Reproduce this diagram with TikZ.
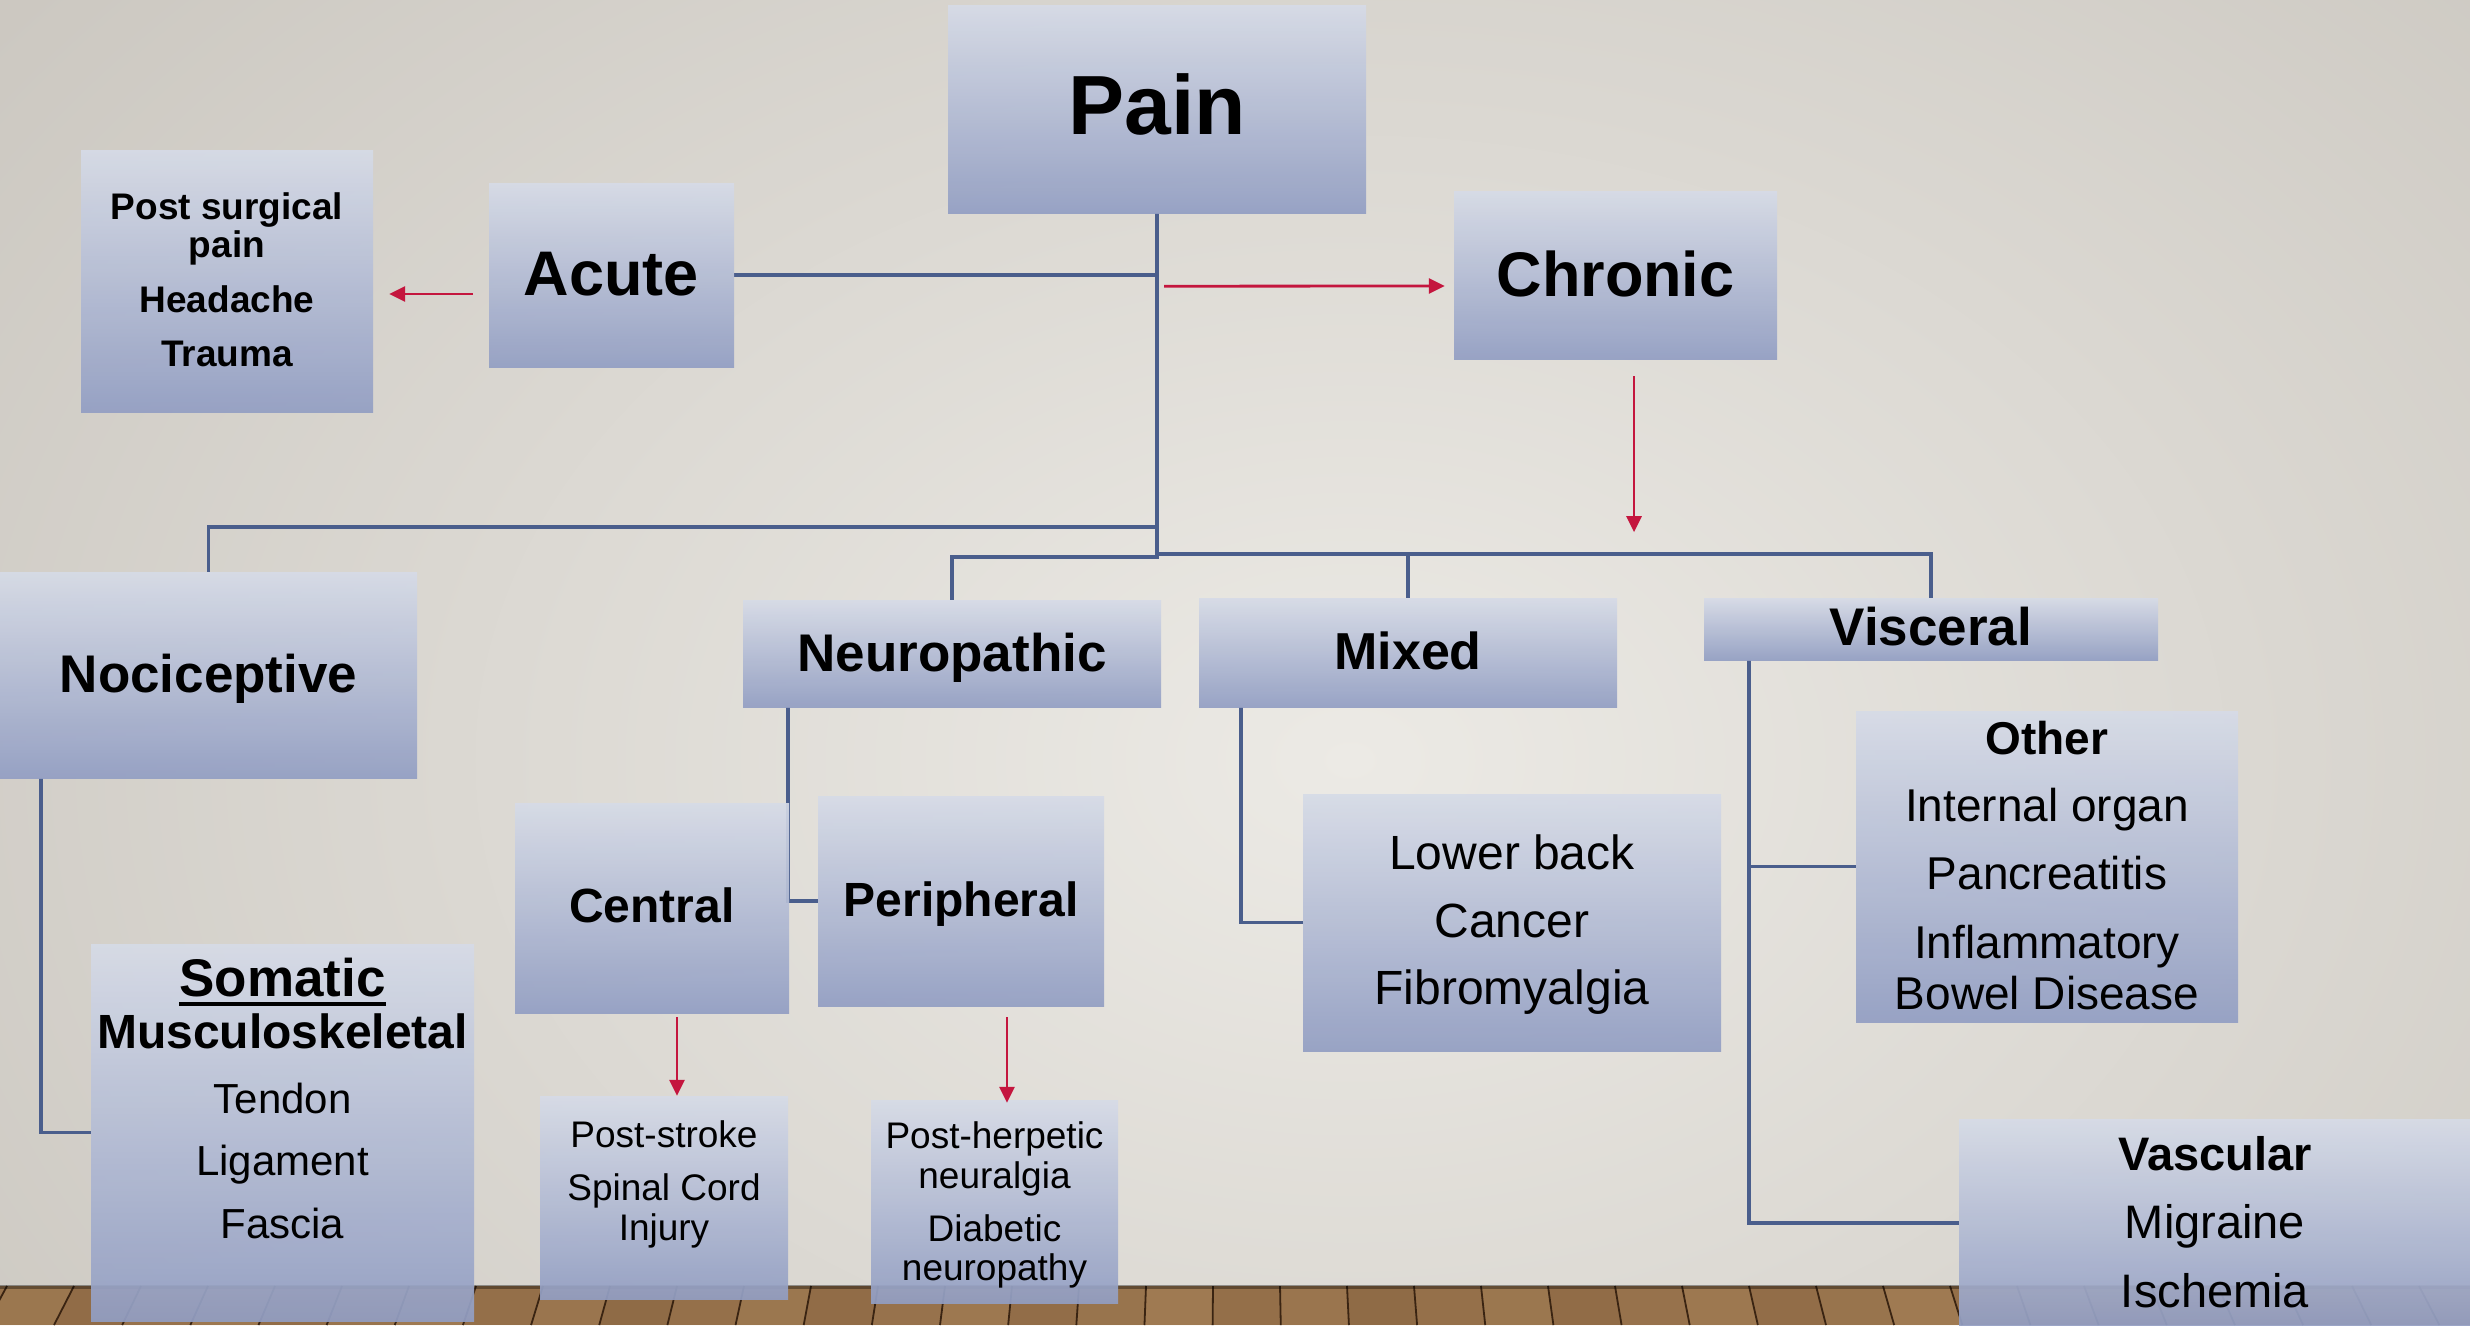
\documentclass[tikz,border=0pt]{standalone}
\usepackage{fontspec}
\setmainfont{Liberation Sans}
\usetikzlibrary{arrows.meta,calc}
\pgfdeclarelayer{bg}
\pgfdeclarelayer{lines}
\pgfsetlayers{bg,lines,main}
\definecolor{wallin}{RGB}{236,234,229}
\definecolor{wallout}{RGB}{203,199,192}
\definecolor{boxtop}{RGB}{214,219,231}
\definecolor{boxbot}{RGB}{146,158,195}
\definecolor{linkc}{RGB}{74,94,140}
\definecolor{redc}{RGB}{196,22,62}
\definecolor{wood}{RGB}{128,92,58}
\definecolor{woodlt}{RGB}{190,152,106}
\definecolor{wooddk}{RGB}{58,36,18}
\newcommand\fsz[1]{\fontsize{#1}{#1}\selectfont}
\newcommand\ulsom[1]{\setbox0\hbox{#1}\rlap{\rule[-10pt]{\wd0}{4.5pt}}\box0}
\begin{document}
\begin{tikzpicture}[x=1pt,y=-1pt,
  box/.style={rectangle,inner sep=0pt,draw=none,top color=boxtop,bottom color=boxbot,fill opacity=0.92},
  lnk/.style={draw=linkc,line width=3.5pt},
  redarr/.style={draw=redc,line width=2.8pt,-{Triangle[length=16pt,width=15pt]}},
  t/.style={anchor=base,inner sep=0pt,text=black},
  plank/.style={draw=wooddk,line width=1.8pt}]
\useasboundingbox (0,0) rectangle (2470,1325);

\begin{pgfonlayer}{bg}
  \fill[wallout] (0,0) rectangle (2470,1325);
  \begin{scope}
    \clip (0,0) rectangle (2470,1290);
    \fill[inner color=wallin,outer color=wallout] (1350,760) ellipse (1750 and 1250);
  \end{scope}
  \fill[wood] (0,1286) rectangle (2470,1325);
  \foreach \x [count=\i] in {-60,7,...,2540} {
    \pgfmathsetmacro\op{0.25+mod(\i*37,11)/40}
    \fill[woodlt,opacity=\op] (\x,1286) -- (\x+67,1286) -- ({\x+67+(\x+67-1235)*0.0172},1325) -- ({\x+(\x-1235)*0.0172},1325) -- cycle;
    \draw[plank] (\x,1286) -- ({\x+(\x-1235)*0.0172},1325);
  }
  \fill[black,opacity=0.35] (0,1285) rectangle (2470,1289);
\end{pgfonlayer}

% boxes
\node[box,minimum width=418,minimum height=208] (pain) at (1157,109) {};
\node[box,minimum width=292,minimum height=262] (post) at (227,281) {};
\node[box,minimum width=245,minimum height=184] (acute) at (611.5,275) {};
\node[box,minimum width=323,minimum height=168] (chronic) at (1615.5,275) {};
\node[box,minimum width=417,minimum height=206] (noc) at (208.5,675) {};
\node[box,minimum width=418,minimum height=107] (neuro) at (952,653.5) {};
\node[box,minimum width=418,minimum height=109] (mixed) at (1408,652.5) {};
\node[box,minimum width=454,minimum height=62] (visc) at (1931,629) {};
\node[box,minimum width=274,minimum height=210] (central) at (652,908) {};
\node[box,minimum width=286,minimum height=210] (periph) at (961,901) {};
\node[box,minimum width=383,minimum height=377] (somatic) at (282.5,1132.5) {};
\node[box,minimum width=248,minimum height=203] (stroke) at (664,1197.5) {};
\node[box,minimum width=247,minimum height=203] (herp) at (994.5,1201.5) {};
\node[box,minimum width=418,minimum height=257] (lower) at (1512,922.5) {};
\node[box,minimum width=382,minimum height=311] (other) at (2047,866.5) {};
\node[box,minimum width=516,minimum height=208] (vasc) at (2217,1223) {};

% connectors
\coordinate (jn) at (1157,557);
\coordinate (jr) at (1157,554);
\coordinate (jl) at (1157,527);
\coordinate (nv) at ($(neuro.south west)+(45,0)$);
\coordinate (cv) at ($(noc.south west)+(41,0)$);
\coordinate (mv) at ($(mixed.south west)+(42,0)$);
\coordinate (vv) at ($(visc.south west)+(45,0)$);
\begin{pgfonlayer}{lines}
  \draw[lnk] (pain.south) -- (jn) -| (neuro.north);
  \draw[lnk] (acute.east) -- (acute.east -| pain.south);
  \draw[lnk] (noc.north) |- (jl);
  \draw[lnk] (jr) -| (visc.north);
  \draw[lnk] (mixed.north) -- (mixed.north |- jr);
  \draw[lnk] (nv) |- (periph.west);
  \draw[lnk] (cv) |- (somatic.west);
  \draw[lnk] (mv) |- (lower.west);
  \draw[lnk] (vv) |- (vasc.west);
  \draw[lnk] (other.west) -- (other.west -| vv);
\end{pgfonlayer}

% red arrows
\coordinate (a1s) at ($(acute.west)+(-16,19)$);
\coordinate (a1e) at ($(post.east)+(16,13)$);
\coordinate (a2s) at ($(pain.south)+(7,73)$);
\coordinate (a2e) at ($(chronic.west)+(-9,11)$);
\coordinate (a3s) at ($(chronic.south)+(18.5,17)$);
\coordinate (a3e) at ($(chronic.south)+(18.5,173)$);
\coordinate (a4s) at ($(central.south)+(25,4)$);
\coordinate (a4e) at ($(stroke.north)+(13,0)$);
\coordinate (a5s) at ($(periph.south)+(46,11)$);
\coordinate (a5e) at ($(herp.north)+(12.5,3)$);
\draw[redarr] (a1s) -- (a1e);
\draw[redarr] (a2s) -- (a2e);
\draw[redarr] (a3s) -- (a3e);
\draw[redarr] (a4s) -- (a4e);
\draw[redarr] (a5s) -- (a5e);

% texts
\node[t,font=\bfseries\fsz{84}] (tpain) at (1157,134) {Pain};
\node[t,font=\bfseries\fsz{37}] (tps1) at (227,219) {Post surgical};
\node[t,font=\bfseries\fsz{37}] (tps2) at (227,257) {pain};
\node[t,font=\bfseries\fsz{37}] (tps3) at (227,312) {Headache};
\node[t,font=\bfseries\fsz{37}] (tps4) at (227,366) {Trauma};
\node[t,font=\bfseries\fsz{63}] (tacute) at (611.5,295) {Acute};
\node[t,font=\bfseries\fsz{63}] (tchron) at (1615.5,296) {Chronic};
\node[t,font=\bfseries\fsz{53}] (tnoc) at (208.5,692) {Nociceptive};
\node[t,font=\bfseries\fsz{53}] (tneuro) at (952,671) {Neuropathic};
\node[t,font=\bfseries\fsz{52}] (tmixed) at (1408,669) {Mixed};
\node[t,font=\bfseries\fsz{53}] (tvisc) at (1931,645) {Visceral};
\node[t,font=\bfseries\fsz{48}] (tcent) at (652,922) {Central};
\node[t,font=\bfseries\fsz{48}] (tperi) at (961,916) {Peripheral};
\node[t,font=\bfseries\fsz{53}] (tsom1) at (282.5,996) {\ulsom{Somatic}};
\node[t,font=\bfseries\fsz{48}] (tsom2) at (282.5,1048) {Musculoskeletal};
\node[t,font=\fsz{42}] (tsom3) at (282.5,1113) {Tendon};
\node[t,font=\fsz{42}] (tsom4) at (282.5,1175) {Ligament};
\node[t,font=\fsz{42}] (tsom5) at (282.5,1238) {Fascia};
\node[t,font=\fsz{37}] (tst1) at (664,1147) {Post-stroke};
\node[t,font=\fsz{37}] (tst2) at (664,1200) {Spinal Cord};
\node[t,font=\fsz{37}] (tst3) at (664,1240) {Injury};
\node[t,font=\fsz{37}] (the1) at (994.5,1148) {Post-herpetic};
\node[t,font=\fsz{37}] (the2) at (994.5,1188) {neuralgia};
\node[t,font=\fsz{37}] (the3) at (994.5,1241) {Diabetic};
\node[t,font=\fsz{37}] (the4) at (994.5,1280) {neuropathy};
\node[t,font=\fsz{48}] (tlo1) at (1512,869) {Lower back};
\node[t,font=\fsz{48}] (tlo2) at (1512,937) {Cancer};
\node[t,font=\fsz{48}] (tlo3) at (1512,1004) {Fibromyalgia};
\node[t,font=\bfseries\fsz{46}] (tot1) at (2047,754) {Other};
\node[t,font=\fsz{46}] (tot2) at (2047,821) {Internal organ};
\node[t,font=\fsz{46}] (tot3) at (2047,889) {Pancreatitis};
\node[t,font=\fsz{46}] (tot4) at (2047,958) {Inflammatory};
\node[t,font=\fsz{46}] (tot5) at (2047,1009) {Bowel Disease};
\node[t,font=\bfseries\fsz{47}] (tva1) at (2215,1170) {Vascular};
\node[t,font=\fsz{47}] (tva2) at (2215,1238) {Migraine};
\node[t,font=\fsz{47}] (tva3) at (2215,1307) {Ischemia};
\end{tikzpicture}
\end{document}
